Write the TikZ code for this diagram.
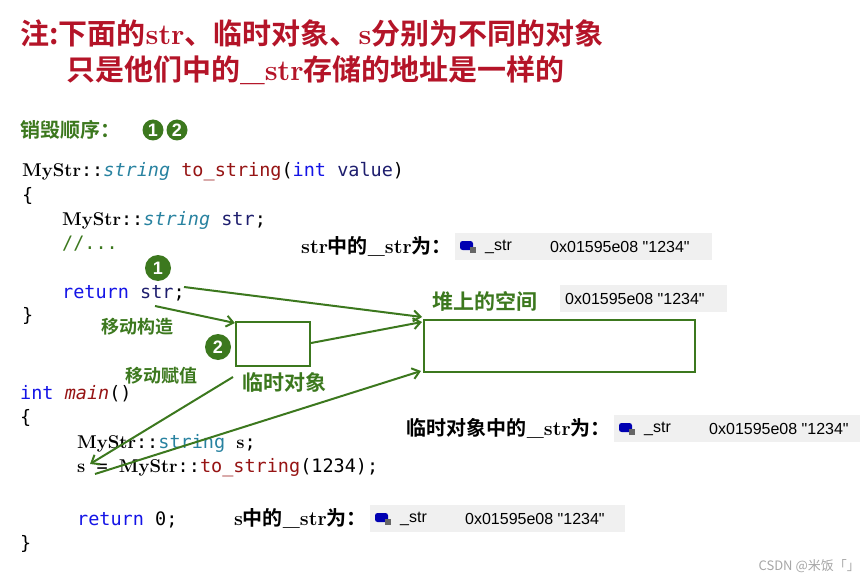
\documentclass[tikz,border=0pt]{standalone}
\usepackage{fontspec}
\newfontfamily\cjk{Noto Sans CJK SC}[BoldFont={Noto Sans CJK SC Bold}]
\newfontfamily\mono{DejaVu Sans Mono}
\newfontfamily\ui{Liberation Sans}
\definecolor{tred}{RGB}{180,20,40}
\definecolor{gr}{RGB}{60,120,30}
\definecolor{kw}{RGB}{20,20,230}
\definecolor{ty}{RGB}{40,130,160}
\definecolor{fn}{RGB}{150,20,20}
\definecolor{vr}{RGB}{30,30,110}
\definecolor{bgg}{RGB}{240,240,240}
\newcommand{\my}{{\rmfamily\bfseries MyStr}}
\tikzset{
  code/.style={anchor=west,inner sep=0,font=\mono\fontsize{18.5}{19}\selectfont},
  lab/.style={anchor=west,inner sep=0,font=\cjk\bfseries\fontsize{20}{21}\selectfont},
  glab/.style={anchor=west,inner sep=0,text=gr,font=\cjk\bfseries\fontsize{18}{18}\selectfont},
  valbox/.style={fill=bgg,draw=none,anchor=north west,inner sep=0},
  vtxt/.style={anchor=west,inner sep=0,font=\ui\fontsize{16}{16}\selectfont},
  gbox/.style={draw=gr,line width=2.2pt},
  arr/.style={draw=gr,line width=2pt,-{Straight Barb[length=7pt,width=11pt]}},
  num/.style={circle,fill=gr,text=white,inner sep=0,minimum size=26pt,font=\ui\bfseries\fontsize{18}{18}\selectfont}
}
\usetikzlibrary{arrows.meta}
\begin{document}
\begin{tikzpicture}[x=1pt,y=-1pt]
\useasboundingbox (0,0) rectangle (867,580);
\node[anchor=west,inner sep=0,text=tred,font=\cjk\bfseries\fontsize{29}{30}\selectfont] (t1) at (20,33) {注:下面的{\rmfamily str}、临时对象、{\rmfamily s}分别为不同的对象};
\node[anchor=west,inner sep=0,text=tred,font=\cjk\bfseries\fontsize{29}{30}\selectfont] (t2) at (66,70) {只是他们中的{\rmfamily\_str}存储的地址是一样的};
\node[glab,font=\cjk\bfseries\fontsize{20}{20}\selectfont] (ord) at (20,130) {销毁顺序：};
\node[num,minimum size=21pt] (o1) at (153,130) {1};
\node[num,minimum size=21pt] (o2) at (177,130) {2};
% code
\node[code] (c1) at (22,172) {\my::\textcolor{ty}{\itshape string} \textcolor{fn}{to\_string}(\textcolor{kw}{int} \textcolor{vr}{value})};
\node[code] (c2) at (22,196) {\{};
\node[code] (c3) at (62,220) {\my::\textcolor{ty}{\itshape string} \textcolor{vr}{str};};
\node[code] (c4) at (62,244) {\textcolor{gr}{//...}};
\node[code] (c5) at (62,293) {\textcolor{kw}{return} \textcolor{vr}{str};};
\node[code] (c6) at (22,316) {\}};
\node[code] (c7) at (20,394) {\textcolor{kw}{int} \textcolor{fn}{\itshape main}()};
\node[code] (c8) at (20,418) {\{};
\node[code] (c9) at (77,443) {\my::\textcolor{ty}{string} {\rmfamily\bfseries s};};
\node[code] (c10) at (77,468) {{\rmfamily\bfseries s} = \my::\textcolor{fn}{to\_string}(1234);};
\node[code] (c11) at (77,520) {\textcolor{kw}{return} 0;};
\node[code] (c12) at (20,544) {\}};
% value boxes
\foreach \n/\x/\y/\w/\l in {v1/455/233/257/{{\rmfamily str}中的{\rmfamily\_str}为：}, v3/614/415/246/{临时对象中的{\rmfamily\_str}为：}, v4/370/505/255/{{\rmfamily s}中的{\rmfamily\_str}为：}}{
  \node[valbox,minimum width=\w pt,minimum height=27pt] (\n) at (\x,\y) {};
  \fill[blue!70!black,rounded corners=2.5pt] ([xshift=5pt,yshift=-8pt]\n.north west) rectangle ++(13,9);
  \fill[gray!80!black] ([xshift=15pt,yshift=-14pt]\n.north west) rectangle ++(6,6);
  \node[vtxt] at ([xshift=30pt]\n.west) {\_str};
  \node[vtxt] at ([xshift=95pt]\n.west) {0x01595e08 "1234"};
  \node[lab,anchor=east] at ([xshift=-3pt]\n.west) {\l};
}
\node[valbox,minimum width=167pt,minimum height=27pt] (v2) at (560,285) {};
\node[vtxt] at ([xshift=5pt]v2.west) {0x01595e08 "1234"};
% boxes
\draw[gbox] (424,320) rectangle (695,372);
\node[gbox,minimum width=74pt,minimum height=44pt,inner sep=0] (tmp) at (273,344) {};
\node[glab,font=\cjk\bfseries\fontsize{21}{21}\selectfont] (heapl) at (432,301) {堆上的空间};
\node[glab,font=\cjk\bfseries\fontsize{21}{21}\selectfont] (tmpl) at (242,382) {临时对象};
\node[glab] (mc) at (101,327) {移动构造};
\node[glab] (ma) at (125,376) {移动赋值};
\node[num] (n1) at (158,268) {1};
\node[num] (n2) at (218,347) {2};
% arrows
\coordinate (a1s) at (184,287);
\coordinate (a1e) at (422,317);
\draw[arr] (a1s) -- (a1e);
\coordinate (a2s) at (155,306);
\draw[arr] (a2s) -- (tmp.west |- 0,323);
\coordinate (a3e) at (422,322);
\draw[arr] (tmp.east |- 0,343) -- (a3e);
\coordinate (a4s) at (233,377);
\coordinate (a4e) at (90,464);
\draw[arr] (a4s) -- (a4e);
\coordinate (a5s) at (95,474);
\coordinate (a5e) at (421,371);
\draw[arr] (a5s) -- (a5e);
\node[anchor=east,inner sep=0,text=gray!70,font=\cjk\fontsize{13}{13}\selectfont] (wm) at (860,566) {CSDN @米饭「」};
\end{tikzpicture}
\end{document}
